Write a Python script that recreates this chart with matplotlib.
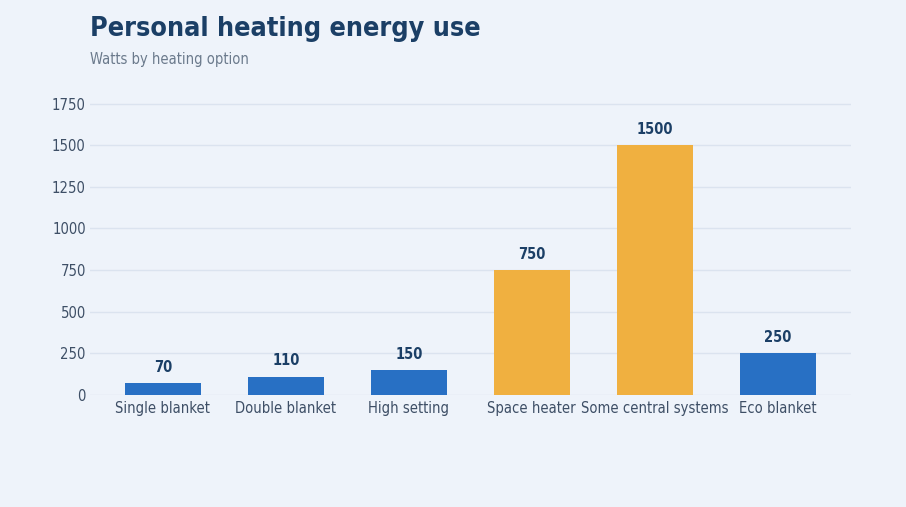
import matplotlib.pyplot as plt

plt.rcParams["font.family"] = ["DejaVu Sans"]
plt.rcParams["font.stretch"] = "condensed"

categories = ["Single blanket", "Double blanket", "High setting",
              "Space heater", "Some central systems", "Eco blanket"]
watts = [70, 110, 150, 750, 1500, 250]
highlight = [False, False, False, True, True, False]
yticks = [0, 250, 500, 750, 1000, 1250, 1500, 1750]

bg = "#eef3fa"
blue = "#2870c4"
orange = "#f0b040"
dark = "#1b3f66"

fig = plt.figure(figsize=(9.06, 5.07), dpi=100, facecolor=bg)
ax = fig.add_axes([0.0993, 0.221, 0.8397, 0.591])
ax.set_facecolor(bg)

colors = [orange if h else blue for h in highlight]
x = list(range(len(categories)))
bars = ax.bar(x, watts, width=0.62, color=colors, zorder=3)

for xi, v in zip(x, watts):
    ax.annotate(str(v), (xi, v), xytext=(0, 6), textcoords="offset points",
                ha="center", va="bottom", fontsize=10.5, fontweight="bold",
                color=dark)

ax.set_xlim(-0.593, 5.594)
ax.set_ylim(0, 1800)
ax.set_yticks(yticks)
ax.set_xticks(x)
ax.set_xticklabels(categories)
ax.tick_params(axis="both", length=0, labelsize=10.6, colors="#3e4f66")
ax.tick_params(axis="x", pad=4)
ax.tick_params(axis="y", pad=3)
ax.grid(axis="y", color="#dbe3ef", linewidth=1, zorder=0)
for s in ax.spines.values():
    s.set_visible(False)

fig.text(0.0993, 0.929, "Personal heating energy use", fontsize=19.4,
         fontweight="bold", color=dark, ha="left", va="baseline")
fig.text(0.0993, 0.874, "Watts by heating option", fontsize=10.5,
         color="#6b7a8c", ha="left", va="baseline")

fig.savefig("out.png", dpi=100, facecolor=bg)
